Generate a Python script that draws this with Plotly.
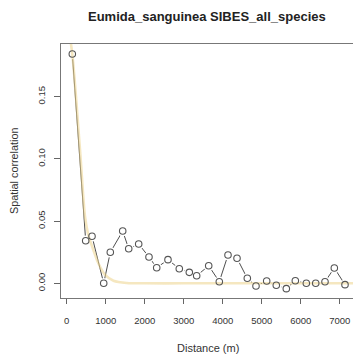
import plotly.graph_objects as go

# Observed spatial correlation by distance class
distance_m = [144, 487, 649, 949, 1118, 1436, 1590, 1846, 2110, 2308, 2597, 2887,
              3144, 3333, 3641, 3913, 4136, 4367, 4631, 4854, 5128, 5374, 5631,
              5862, 6144, 6385, 6623, 6862, 7136]
correlation = [0.1843, 0.0342, 0.0378, 0.0000, 0.0249, 0.0420, 0.0278, 0.0316,
               0.0211, 0.0125, 0.0190, 0.0117, 0.0088, 0.0061, 0.0141, 0.0013,
               0.0227, 0.0201, 0.0040, -0.0022, 0.0018, -0.0016, -0.0043,
               0.0021, 0.0000, 0.0000, 0.0013, 0.0123, -0.0011]

# Fitted decay curve
fit_distance = [0, 144, 342, 470, 555, 684, 812, 985, 1200, 1540, 2000, 3000,
                4000, 5000, 6000, 7000, 7400]
fit_value = [0.215, 0.184, 0.107, 0.0535, 0.0388, 0.0268, 0.0161, 0.0067,
             0.0021, 0.0003, 0.0, 0.0, 0.0, 0.0, 0.0, 0.0, 0.0]

y_ticks = [0.0, 0.05, 0.10, 0.15]
y_tick_text = ["0.00", "0.05", "0.10", "0.15"]
x_ticks = [0, 1000, 2000, 3000, 4000, 5000, 6000, 7000]
x_tick_text = ["0", "1000", "2000", "3000", "4000", "5000", "6000", "7000"]

FONT = "Liberation Sans, Arial, sans-serif"

# plot area spans page x 61..353, y 44..298
fig = go.Figure()
fig.add_trace(go.Scatter(x=distance_m, y=correlation, mode="lines",
                         line=dict(color="#3a3a3a", width=0.9),
                         hoverinfo="skip", showlegend=False))
fig.add_trace(go.Scatter(x=distance_m, y=correlation, mode="markers",
                         marker=dict(symbol="circle", size=10.5, color="white",
                                     line=dict(width=0)),
                         hoverinfo="skip", showlegend=False))
fig.add_trace(go.Scatter(x=fit_distance, y=fit_value, mode="lines",
                         line=dict(color="rgba(236,212,140,0.55)", width=2.6,
                                   shape="spline", smoothing=0.8),
                         hoverinfo="skip", showlegend=False))
fig.add_trace(go.Scatter(x=distance_m, y=correlation, mode="markers",
                         marker=dict(symbol="circle-open", size=6.5,
                                     color="#555555", line=dict(width=1.1)),
                         showlegend=False))

fig.update_layout(
    width=353, height=361,
    margin=dict(l=61, r=0, t=44, b=63),
    paper_bgcolor="white", plot_bgcolor="white",
    font=dict(family=FONT, color="#333333", size=9.5),
    xaxis=dict(range=[-146, 7341], tickmode="array", tickvals=x_ticks,
               ticktext=x_tick_text, ticks="outside", ticklen=5,
               tickcolor="#666666", tickwidth=1, showgrid=False, zeroline=False,
               showline=True, linecolor="#777777", linewidth=1, mirror=True,
               ticklabelstandoff=9, ticklabeloverflow="allow",
               tickfont=dict(size=9.5, color="#333333")),
    yaxis=dict(range=[-0.01182, 0.19237], tickmode="array", tickvals=y_ticks,
               ticktext=y_tick_text, ticks="outside", ticklen=6,
               tickcolor="#666666", tickwidth=1, showgrid=False, zeroline=False,
               showline=True, linecolor="#777777", linewidth=1, tickangle=-90,
               ticklabelstandoff=5, tickfont=dict(size=9.5, color="#333333")),
    annotations=[
        dict(text="<b>Eumida_sanguinea SIBES_all_species</b>", xref="paper",
             yref="paper", x=(207 - 61) / 292, y=1 + (44 - 16.7) / 254,
             xanchor="center", yanchor="middle", showarrow=False,
             font=dict(size=13, color="#222222", family=FONT)),
        dict(text="Distance (m)", xref="paper", yref="paper",
             x=(208 - 61) / 292, y=-(347.7 - 298) / 254,
             xanchor="center", yanchor="middle", showarrow=False,
             font=dict(size=11, color="#333333", family=FONT)),
        dict(text="Spatial correlation", xref="paper", yref="paper",
             x=-(61 - 14) / 292, y=0.5, textangle=-90,
             xanchor="center", yanchor="middle", showarrow=False,
             font=dict(size=10.8, color="#333333", family=FONT)),
    ],
)

fig.write_html("out.html",
               config={"displayModeBar": False},
               post_script="document.body.style.margin='0';"
                           "document.body.style.overflow='hidden';")
